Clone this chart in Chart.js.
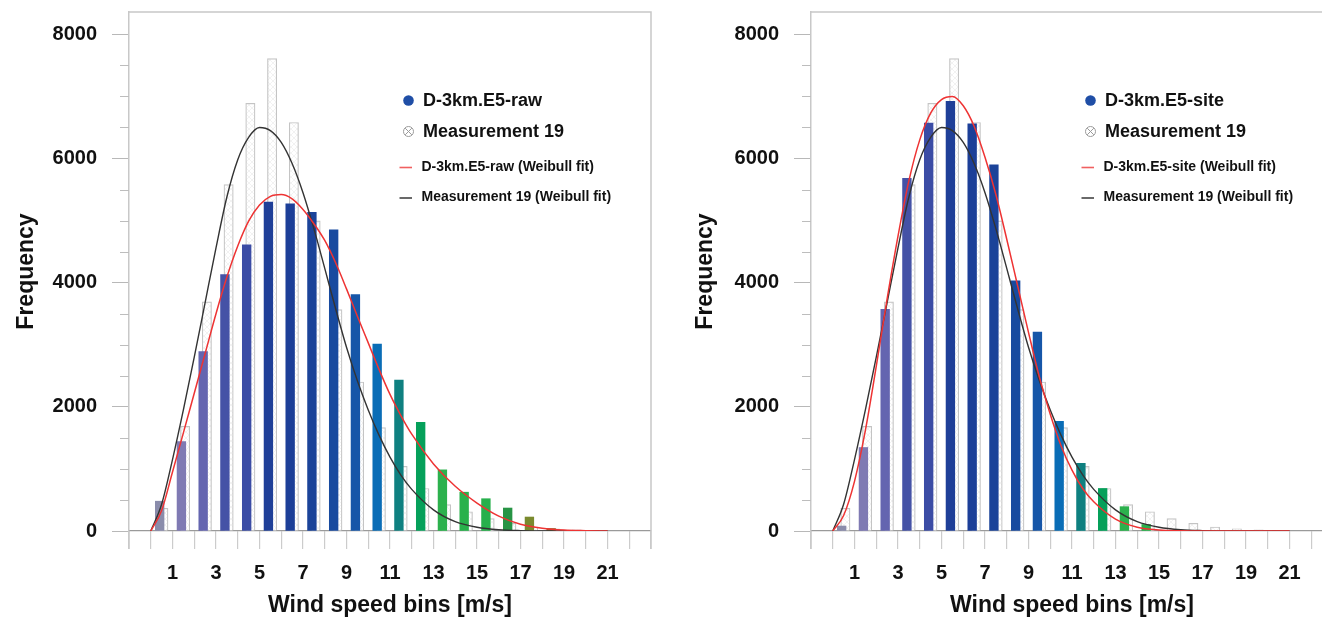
<!DOCTYPE html>
<html><head><meta charset="utf-8">
<script src="https://cdn.jsdelivr.net/npm/chart.js@4.4.1/dist/chart.umd.min.js"></script>
<style>
html,body{margin:0;padding:0;background:#fff;overflow:hidden;}
#wrap{position:relative;width:1345px;height:617px;}
canvas{position:absolute;top:0;}
</style></head><body>
<div id="wrap">
<canvas id="c1" width="661" height="617" style="left:0px"></canvas>
<canvas id="c2" width="684" height="617" style="left:661px"></canvas>
</div>
<script>
// ---------- data ----------
const binCenters = [0.5,1.5,2.5,3.5,4.5,5.5,6.5,7.5,8.5,9.5,10.5,11.5,12.5,13.5,14.5,15.5,16.5,17.5,18.5,19.5,20.5];
const binColors = ['#8a8cab','#7f7ab3','#6465b0','#4552a6','#3b4ca5','#1f3f98','#1c3f98','#1b4399','#184a9f','#1656a8','#0a6db6','#0f8080','#05a05a','#2cb14d','#29b14b','#27b04c','#279445','#7a8a2e','#8a6a28','#8a5a30','#8a5a30'];
const measurement19 = [365,1685,3690,5580,6890,7610,6580,4995,3565,2400,1665,1040,685,425,310,200,124,65,35,18,8];
const e5Raw  = [480,1440,2890,4130,4610,5300,5270,5135,4850,3810,3010,2430,1750,985,625,520,370,225,40,0,0];
const e5Site = [80,1345,3570,5680,6570,6920,6560,5900,4030,3205,1765,1090,685,392,105,0,0,0,0,0,0];

const fitX      = [0,0.5,1,1.5,2,2.5,3,3.5,4,4.5,5,5.5,6,6.5,7,7.5,8,8.5,9,9.5,10,10.5,11,11.5,12,13,14,15,16,17,18,19,20,21];
const fitMeas19 = [0,430,1150,1950,2800,3680,4560,5380,5980,6340,6500,6450,6260,5920,5450,4870,4230,3580,2960,2420,1950,1540,1190,900,670,340,150,60,20,6,2,0,0,0];
const fitE5Raw  = [0,330,950,1580,2220,2860,3500,4090,4590,4990,5250,5390,5420,5350,5180,4950,4680,4320,3900,3460,3030,2600,2200,1860,1560,1080,720,450,240,110,45,15,5,0];
const fitE5Site = [0,250,800,1620,2650,3740,4750,5640,6300,6730,6950,7000,6850,6520,6020,5420,4700,3950,3200,2480,1880,1370,980,680,470,190,60,15,3,0,0,0,0,0];

const xTickLabels = ['1','3','5','7','9','11','13','15','17','19','21'];
const yTickValues = [0,500,1000,1500,2000,2500,3000,3500,4000,4500,5000,5500,6000,6500,7000,7500,8000];
const yTickLabels = ['0','2000','4000','6000','8000'];
const measName = 'Measurement 19';
const fitSuffix = ' (Weibull fit)';

// ---------- styles ----------
const FONT = '"Liberation Sans", Arial, Helvetica, sans-serif';
const FRAME = '#c8c8c8';

function hatchPattern() {
  const c = document.createElement('canvas');
  c.width = 6; c.height = 6;
  const g = c.getContext('2d');
  g.fillStyle = '#ffffff'; g.fillRect(0,0,6,6);
  g.strokeStyle = '#efefef'; g.lineWidth = 0.8;
  g.beginPath(); g.moveTo(0,0); g.lineTo(6,6); g.moveTo(6,0); g.lineTo(0,6); g.stroke();
  return g.createPattern(c, 'repeat');
}

const decor = {
  id: 'decor',
  afterDraw(chart, args, opts) {
    const {ctx, chartArea: ca, scales} = chart;
    const y = scales.y;
    ctx.save();
    // frame
    ctx.strokeStyle = FRAME; ctx.lineWidth = 1.5;
    ctx.beginPath();
    ctx.moveTo(ca.left, ca.top); ctx.lineTo(ca.right, ca.top); ctx.lineTo(ca.right, ca.bottom + 18);
    ctx.moveTo(ca.left, ca.bottom); ctx.lineTo(ca.left, ca.bottom + 18);
    ctx.stroke();
    // minor y ticks
    ctx.strokeStyle = '#bdbdbd'; ctx.lineWidth = 1;
    ctx.beginPath();
    y.ticks.forEach(t => {
      if (t.value % 2000 !== 0) {
        const py = Math.round(y.getPixelForValue(t.value)) + 0.5;
        ctx.moveTo(ca.left - 9, py); ctx.lineTo(ca.left, py);
      }
    });
    ctx.stroke();
    // legend
    const L = opts.labels;
    const lx = ca.left + 279.5;
    const tx = ca.left + 294;
    ctx.fillStyle = '#1f4ea6';
    ctx.beginPath(); ctx.arc(lx, 100.5, 5.3, 0, Math.PI*2); ctx.fill();
    ctx.strokeStyle = '#9a9a9a'; ctx.lineWidth = 1;
    ctx.beginPath(); ctx.arc(lx, 131.5, 5, 0, Math.PI*2); ctx.stroke();
    ctx.beginPath();
    ctx.moveTo(lx-3.3, 128.2); ctx.lineTo(lx+3.3, 134.8);
    ctx.moveTo(lx+3.3, 128.2); ctx.lineTo(lx-3.3, 134.8);
    ctx.stroke();
    ctx.lineWidth = 1.6;
    ctx.strokeStyle = '#f06060';
    ctx.beginPath(); ctx.moveTo(ca.left+270.5, 167.5); ctx.lineTo(ca.left+283, 167.5); ctx.stroke();
    ctx.strokeStyle = '#444';
    ctx.beginPath(); ctx.moveTo(ca.left+270.5, 198); ctx.lineTo(ca.left+283, 198); ctx.stroke();
    ctx.fillStyle = '#111';
    ctx.textBaseline = 'middle'; ctx.textAlign = 'left';
    ctx.font = 'bold 18px ' + FONT;
    ctx.fillText(L[0], tx, 101);
    ctx.fillText(L[1], tx, 132);
    ctx.font = 'bold 14px ' + FONT;
    ctx.fillText(L[2], tx - 1.5, 167);
    ctx.fillText(L[3], tx - 1.5, 197.5);
    ctx.restore();
  }
};

function makeChart(id, modelName, modelValues, modelFit, yWidth, padRight, yTitlePad) {
  const hatch = hatchPattern();
  return new Chart(document.getElementById(id), {
    type: 'bar',
    data: {
      datasets: [
        { type: 'line', label: modelName + fitSuffix,
          data: fitX.map((x, i) => ({x, y: modelFit[i]})),
          borderColor: '#ee3333', borderWidth: 1.5, pointRadius: 0,
          cubicInterpolationMode: 'monotone', order: 0 },
        { type: 'line', label: measName + fitSuffix,
          data: fitX.map((x, i) => ({x, y: fitMeas19[i]})),
          borderColor: '#333333', borderWidth: 1.4, pointRadius: 0,
          cubicInterpolationMode: 'monotone', order: 0 },
        { type: 'bar', label: modelName,
          data: binCenters.map((b, i) => ({x: b - 0.09, y: modelValues[i]})),
          backgroundColor: binColors, borderWidth: 0,
          barThickness: 8.7, grouped: false, order: 1 },
        { type: 'bar', label: measName,
          data: binCenters.map((b, i) => ({x: b + 0.08, y: measurement19[i]})),
          backgroundColor: hatch, borderColor: '#c4c4c4', borderWidth: 1.2,
          barThickness: 9.3, grouped: false, order: 2 }
      ]
    },
    options: {
      responsive: false, animation: false, devicePixelRatio: 1,
      layout: { padding: { top: 12, right: padRight, left: 0, bottom: 0 } },
      plugins: {
        legend: { display: false }, tooltip: { enabled: false },
        decor: { labels: [modelName, measName, modelName + fitSuffix, measName + fitSuffix] }
      },
      scales: {
        x: {
          type: 'linear', min: -1, max: 23, offset: false,
          afterFit: s => { s.height = 86; s.paddingLeft = 0; s.paddingRight = 0; },
          grid: { offset: false, drawOnChartArea: false, drawTicks: true, tickLength: 18, color: '#cccccc', lineWidth: 1.2 },
          border: { display: true, color: '#9a9a9a', width: 1.2 },
          ticks: {
            stepSize: 1, autoSkip: false, maxRotation: 0, padding: 12,
            color: '#111', font: { family: FONT, size: 20, weight: 'bold' },
            callback: v => xTickLabels.includes(String(v)) ? String(v) : ''
          },
          title: { display: true, text: 'Wind speed bins [m/s]', color: '#111',
                   font: { family: FONT, size: 23, weight: 'bold', lineHeight: 1 },
                   padding: { top: 0, bottom: 0 } }
        },
        y: {
          type: 'linear', min: 0, max: 8360,
          afterBuildTicks: s => { s.ticks = yTickValues.map(v => ({value: v})); },
          afterFit: s => { s.width = yWidth; s.paddingTop = 0; s.paddingBottom = 0; },
          grid: { drawOnChartArea: false, drawTicks: true, tickLength: 17,
                  tickColor: c => (c.tick && c.tick.value % 2000 === 0) ? '#b8b8b8' : 'rgba(0,0,0,0)' },
          border: { display: true, color: FRAME, width: 1.5 },
          ticks: {
            autoSkip: false, padding: 15,
            color: '#111', font: { family: FONT, size: 20, weight: 'bold' },
            callback: v => yTickLabels.includes(String(v)) ? String(v) : ''
          },
          title: { display: true, text: 'Frequency', color: '#111',
                   font: { family: FONT, size: 23, weight: 'bold', lineHeight: 1 },
                   padding: { top: yTitlePad, bottom: 0 } }
        }
      }
    },
    plugins: [decor]
  });
}

makeChart('c1', 'D-3km.E5-raw', e5Raw, fitE5Raw, 129, 10, 15);
makeChart('c2', 'D-3km.E5-site', e5Site, fitE5Site, 150, 12, 33);
</script>
</body></html>
